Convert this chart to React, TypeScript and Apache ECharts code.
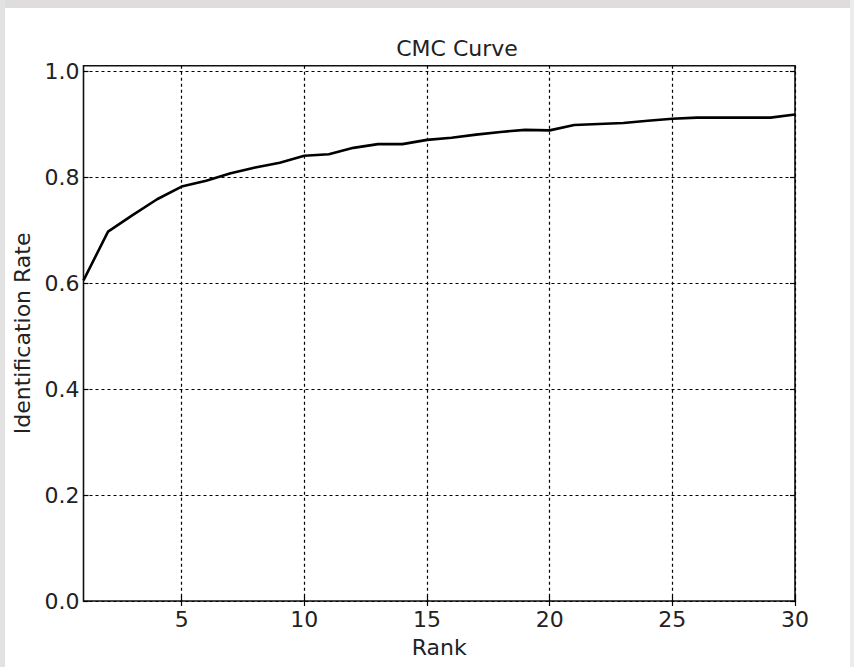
import React, { useEffect, useRef } from "react";
import * as echarts from "echarts";

const ranks: number[] = Array.from({ length: 30 }, (_, i) => i + 1);
const identificationRate: number[] = [
  0.605, 0.697, 0.728, 0.758, 0.782, 0.793, 0.807, 0.818, 0.827, 0.84,
  0.843, 0.855, 0.862, 0.862, 0.87, 0.874, 0.88, 0.885, 0.889, 0.888,
  0.898, 0.9, 0.902, 0.906, 0.91, 0.912, 0.912, 0.912, 0.912, 0.918,
];
const xTicks: number[] = [5, 10, 15, 20, 25, 30];
const yTicks: number[] = [0, 0.2, 0.4, 0.6, 0.8, 1.0];

export default function App() {
  const ref = useRef<HTMLDivElement>(null);
  useEffect(() => {
    if (!ref.current) return;
    const chart = echarts.init(ref.current, undefined, { renderer: "svg" });
    const font = "'DejaVu Sans', sans-serif";
    const tickStyle = { inside: true, length: 5, lineStyle: { color: "#000", width: 1.2 } };
    const gridLine = { show: true, lineStyle: { color: "#000", type: [3, 3] as any, width: 1.2 } };
    chart.setOption({
      animation: false,
      backgroundColor: "#fff",
      title: {
        text: "CMC Curve",
        left: 452,
        top: 32,
        textAlign: "center",
        textStyle: { fontFamily: font, fontSize: 22, fontWeight: "normal", color: "#222" },
      },
      grid: {
        left: 83.5,
        right: 59,
        top: 65.7,
        bottom: 66,
        show: true,
        borderColor: "#111",
        borderWidth: 1.6,
        backgroundColor: "transparent",
        containLabel: false,
      },
      xAxis: [
        {
          type: "value",
          min: 1,
          max: 30,
          name: "Rank",
          nameLocation: "middle",
          nameGap: 35,
          nameTextStyle: { fontFamily: font, fontSize: 22, color: "#222" },
          axisLine: { show: false },
          axisTick: { ...tickStyle, customValues: xTicks },
          axisLabel: { customValues: xTicks, fontFamily: font, fontSize: 22, color: "#222", margin: 7 },
          splitLine: gridLine,
        },
        {
          type: "value",
          position: "top",
          min: 1,
          max: 30,
          axisLine: { show: false },
          axisTick: { ...tickStyle, customValues: xTicks },
          axisLabel: { show: false },
          splitLine: { show: false },
        },
      ],
      yAxis: [
        {
          type: "value",
          min: 0,
          max: 1.01,
          interval: 0.2,
          name: "Identification Rate",
          nameLocation: "middle",
          nameGap: 45,
          nameTextStyle: { fontFamily: font, fontSize: 22, color: "#222" },
          axisLine: { show: false },
          axisTick: { ...tickStyle, customValues: yTicks },
          axisLabel: {
            customValues: yTicks,
            fontFamily: font,
            fontSize: 22,
            color: "#222",
            margin: 4,
            formatter: (v: number) => v.toFixed(1),
          },
          splitLine: gridLine,
        },
        {
          type: "value",
          position: "right",
          min: 0,
          max: 1.01,
          interval: 0.2,
          axisLine: { show: false },
          axisTick: { ...tickStyle, customValues: yTicks },
          axisLabel: { show: false },
          splitLine: { show: false },
        },
      ],
      graphic: [
        { type: "rect", left: 0, top: 0, shape: { width: 854, height: 8 }, style: { fill: "#dedcdd" }, z: 100 },
        { type: "rect", left: 0, top: 0, shape: { width: 5, height: 667 }, style: { fill: "#e2e2e2" }, z: 100 },
        { type: "rect", right: 0, top: 0, shape: { width: 4, height: 667 }, style: { fill: "#ececec" }, z: 100 },
      ],
      series: [
        {
          type: "line",
          data: ranks.map((r, i) => [r, identificationRate[i]]),
          showSymbol: false,
          symbol: "none",
          lineStyle: { color: "#000", width: 2.6 },
          z: 10,
        },
      ],
    });
    return () => chart.dispose();
  }, []);
  return (
    <div
      ref={ref}
      style={{ position: "fixed", left: 0, top: 0, width: 854, height: 667, background: "#fff" }}
    />
  );
}
